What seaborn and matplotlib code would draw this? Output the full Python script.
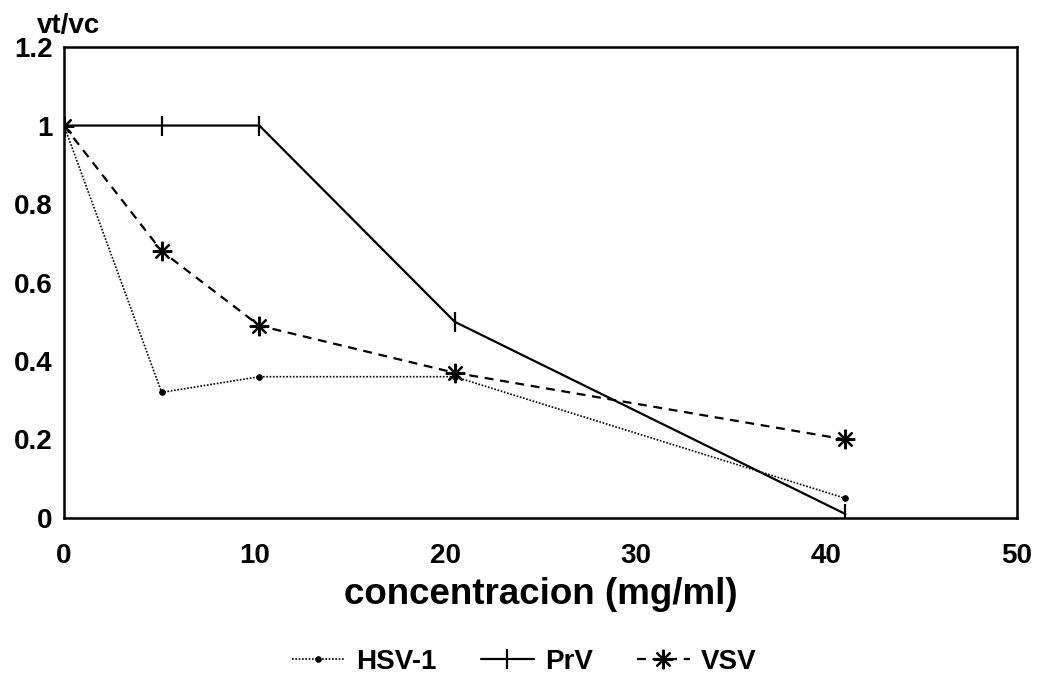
import matplotlib
matplotlib.use("Agg")
import matplotlib.pyplot as plt
import seaborn as sns
import pandas as pd

sns.set_style("white")
plt.rcParams['font.family'] = ['Liberation Sans', 'DejaVu Sans']
plt.rcParams['font.weight'] = 'bold'
plt.rcParams['text.color'] = 'black'

concentration = [0, 5.125, 10.25, 20.5, 41]
hsv1 = [1.0, 0.32, 0.36, 0.36, 0.05]
prv = [1.0, 1.0, 1.0, 0.5, 0.01]
vsv = [1.0, 0.68, 0.49, 0.37, 0.20]
series_names = ["HSV-1", "PrV", "VSV"]
x_ticks = [0, 10, 20, 30, 40, 50]
y_ticks = [0, 0.2, 0.4, 0.6, 0.8, 1.0, 1.2]
y_tick_labels = ["0", "0.2", "0.4", "0.6", "0.8", "1", "1.2"]

df = pd.DataFrame({
    "conc": concentration * 3,
    "val": hsv1 + prv + vsv,
    "virus": [n for n in series_names for _ in concentration],
})

fig = plt.figure(figsize=(10.37, 6.82), dpi=100)
ax = fig.add_axes([0.0617, 0.2405, 0.9190, 0.6905])

styles = {
    "HSV-1": dict(linestyle=(0, (1, 1)), marker="o", markersize=4, linewidth=1.2),
    "PrV": dict(linestyle="-", marker="|", markersize=14, markeredgewidth=1.6, linewidth=1.6),
    "VSV": dict(linestyle=(0, (4, 3)), marker=(8, 2, 0), markersize=14, markeredgewidth=1.6, linewidth=1.6),
}
for name in series_names:
    sub = df[df["virus"] == name]
    sns.lineplot(data=sub, x="conc", y="val", ax=ax, color="black",
                 label=name, markeredgecolor="black", **styles[name])

ax.set_xlim(0, 50)
ax.set_ylim(0, 1.2)
ax.set_xticks(x_ticks)
ax.set_xticklabels([str(t) for t in x_ticks])
ax.set_yticks(y_ticks)
ax.set_yticklabels(y_tick_labels)
ax.tick_params(axis="both", direction="in", length=8, width=1.5, labelsize=20, colors="black")
ax.tick_params(axis="x", pad=18)
ax.tick_params(axis="y", pad=8)
for lab in ax.get_xticklabels() + ax.get_yticklabels():
    lab.set_fontweight("bold")
for s in ax.spines.values():
    s.set_color("black")
    s.set_linewidth(1.8)

ax.set_xlabel("concentracion (mg/ml)", fontsize=26.5, fontweight="bold", labelpad=6, color="black")
ax.set_ylabel("")
fig.text(0.036, 0.962, "vt/vc", fontsize=20, fontweight="bold", ha="left", va="center")

leg = ax.legend(loc="center", bbox_to_anchor=(0.483, -0.305), ncol=3, frameon=False,
                prop={"size": 20, "weight": "bold"}, handlelength=1.9, columnspacing=1.6,
                handletextpad=0.4)

fig.savefig("out.png", dpi=100, facecolor="white")
